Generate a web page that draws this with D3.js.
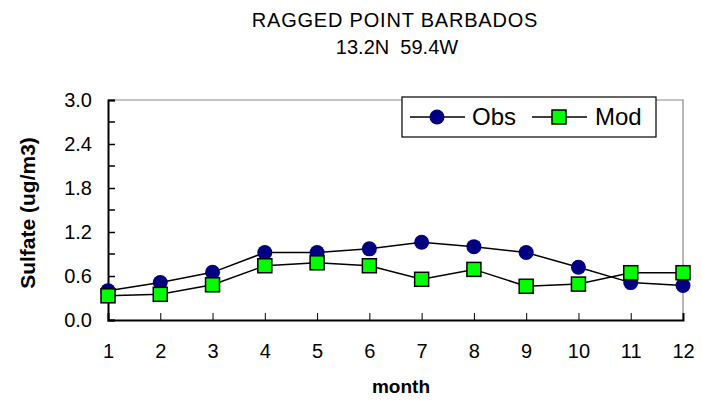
<!DOCTYPE html>
<html>
<head>
<meta charset="utf-8">
<script src="https://cdn.jsdelivr.net/npm/d3@7"></script>
<style>
  body { margin: 0; background: #fff; }
  text { font-family: "Liberation Sans", Arial, sans-serif; }
</style>
</head>
<body>
<div id="chart"></div>
<script>
var months = [1, 2, 3, 4, 5, 6, 7, 8, 9, 10, 11, 12];
var obs = [0.40, 0.51, 0.65, 0.92, 0.92, 0.97, 1.06, 1.00, 0.92, 0.72, 0.51, 0.47];
var mod = [0.33, 0.35, 0.48, 0.74, 0.78, 0.74, 0.555, 0.69, 0.46, 0.49, 0.645, 0.645];
var yTicks = [0, 0.6, 1.2, 1.8, 2.4, 3.0];
var yMinor = [0.3, 0.9, 1.5, 2.1, 2.7];

var width = 702, height = 404,
margin = {top: 100, right: 19, bottom: 84, left: 108};

var svg = d3.select("#chart").append("svg")
.attr("width", width)
.attr("height", height);

var x = d3.scaleLinear().domain([1, 12]).range([margin.left, width - margin.right]);
var y = d3.scaleLinear().domain([0, 3]).range([height - margin.bottom, margin.top]);

// titles
svg.append("text").attr("x", 395).attr("y", 27).attr("text-anchor", "middle")
.style("font-size", "20px").style("letter-spacing", "0.8px").text("RAGGED POINT BARBADOS");
svg.append("text").attr("x", 397).attr("y", 54).attr("text-anchor", "middle")
.style("font-size", "20px").attr("xml:space", "preserve").text("13.2N  59.4W");

// plot frame: gray top/right
svg.append("path")
.attr("d", "M" + x(1) + "," + y(3) + "H" + x(12) + "V" + y(0))
.attr("fill", "none").attr("stroke", "#888").attr("stroke-width", 1.2);

// y axis
var yAxis = d3.axisLeft(y).tickValues(yTicks).tickSize(-7).tickPadding(16)
.tickFormat(d3.format(".1f"));
var gy = svg.append("g").attr("transform", "translate(" + margin.left + ",0)").call(yAxis);
gy.select(".domain").attr("stroke-width", 2);
gy.selectAll(".tick line").attr("stroke-width", 1.5);
gy.selectAll(".tick text").style("font-size", "20px").attr("fill", "#000");
gy.selectAll(".minor").data(yMinor).enter().append("line")
.attr("x1", 0).attr("x2", 7).attr("y1", y).attr("y2", y).attr("stroke", "#000").attr("stroke-width", 1.5);

// x axis
var xAxis = d3.axisBottom(x).tickValues(months).tickSize(-7).tickPadding(24)
.tickFormat(d3.format("d"));
var gx = svg.append("g").attr("transform", "translate(0," + (height - margin.bottom) + ")").call(xAxis);
gx.select(".domain").attr("stroke-width", 2);
gx.selectAll(".tick text").style("font-size", "20px").attr("fill", "#000");

// axis titles
svg.append("text").attr("transform", "translate(35,213) rotate(-90)")
.attr("text-anchor", "middle").style("font-size", "21px").style("font-weight", "bold")
.text("Sulfate (ug/m3)");
svg.append("text").attr("x", 401).attr("y", 393).attr("text-anchor", "middle")
.style("font-size", "19px").style("font-weight", "bold").text("month");

// lines
var line = d3.line().x(function(d, i){ return x(months[i]); }).y(function(d){ return y(d); });
svg.append("path").datum(obs).attr("d", line).attr("fill", "none").attr("stroke", "#000").attr("stroke-width", 1.5);
svg.append("path").datum(mod).attr("d", line).attr("fill", "none").attr("stroke", "#000").attr("stroke-width", 1.5);

svg.selectAll(".obs").data(obs).enter().append("circle")
.attr("cx", function(d, i){ return x(months[i]); })
.attr("cy", y).attr("r", 7.5).attr("fill", "#000080");

svg.selectAll(".mod").data(mod).enter().append("rect")
.attr("x", function(d, i){ return x(months[i]) - 7; })
.attr("y", function(d){ return y(d) - 7; })
.attr("width", 14).attr("height", 14)
.attr("fill", "#00ff00").attr("stroke", "#000").attr("stroke-width", 1.5);

// legend
var lg = svg.append("g").attr("transform", "translate(402,97)");
lg.append("rect").attr("width", 254).attr("height", 40).attr("fill", "#fff").attr("stroke", "#000").attr("stroke-width", 1.2);
lg.append("line").attr("x1", 8).attr("x2", 63).attr("y1", 20).attr("y2", 20).attr("stroke", "#000").attr("stroke-width", 1.5);
lg.append("circle").attr("cx", 35).attr("cy", 20).attr("r", 7.5).attr("fill", "#000080");
lg.append("text").attr("x", 70).attr("y", 28).style("font-size", "24px").text("Obs");
lg.append("line").attr("x1", 130).attr("x2", 185).attr("y1", 20).attr("y2", 20).attr("stroke", "#000").attr("stroke-width", 1.5);
lg.append("rect").attr("x", 150).attr("y", 13).attr("width", 14).attr("height", 14)
.attr("fill", "#00ff00").attr("stroke", "#000").attr("stroke-width", 1.5);
lg.append("text").attr("x", 193).attr("y", 28).style("font-size", "24px").text("Mod");
</script>
</body>
</html>
